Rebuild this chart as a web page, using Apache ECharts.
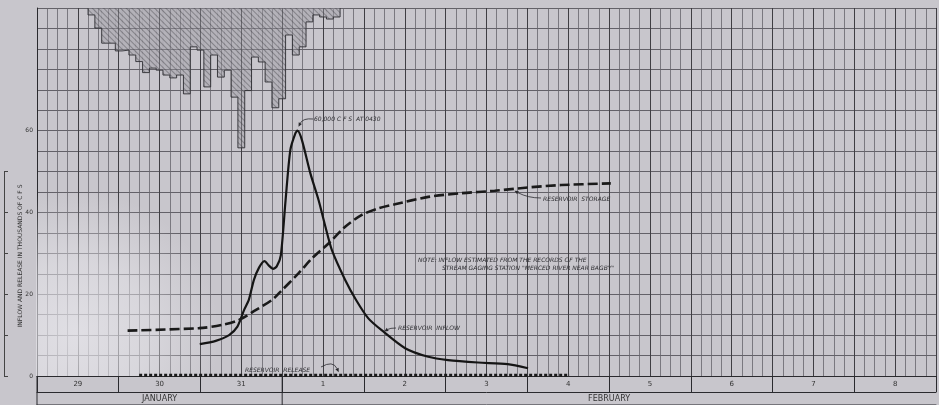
<!DOCTYPE html>
<html><head><meta charset="utf-8">
<script src="https://cdn.jsdelivr.net/npm/echarts@6/dist/echarts.min.js"></script>
<style>html,body{margin:0;padding:0;background:#c8c6cc;}#c{width:939px;height:405px;}</style>
</head><body><div id="c"></div>
<script>
// ---- data (hours counted from 00:00, January 29) ----
const dayLabels = ['29','30','31','1','2','3','4','5','6','7','8'];
const monthLabels = ['JANUARY','FEBRUARY'];
const monthCenterHours = [36, 168];
const yTickLabels = [0, 20, 40, 60];

// rainfall hyetograph, 2-hour bins starting at hour 15 (depth, drawn hanging from top)
const rainBinStartHour = 15;
const rainBinHours = 2;
const rainDepth = [1.7, 4.9, 8.6, 8.6, 10.5, 10.3, 11.5, 13.1, 15.8, 14.7, 15.2, 16.4, 17.1, 16.4, 21.0,
  9.5, 10.3, 19.3, 11.5, 16.9, 15.2, 21.8, 34.2, 20.2, 12.0, 13.2, 18.1, 24.4, 22.2, 6.6, 11.5, 9.5,
  3.4, 1.7, 2.2, 2.7, 2.2];

// reservoir inflow (thousands of cfs)
const inflowHours = [47.8, 52.5, 56.4, 58.8, 60.8, 62.2, 63.7, 65.2, 66.8, 68.1, 69.3, 70.4, 71.6, 73.0,
  74.4, 75.9, 76.5, 77.8, 80.3, 82.7, 84.7, 86.6, 90.5, 93.7, 97.3, 101.2, 108.1, 114.9, 120.7, 129.5, 138.2, 144.2];
const inflowKcfs = [7.8, 8.6, 10.0, 12.0, 16.1, 18.6, 23.5, 26.5, 28.1, 27.0, 26.2, 26.8, 29.5, 43.0,
  55.3, 59.4, 60.0, 57.7, 49.5, 43.0, 36.5, 30.8, 23.5, 18.6, 14.1, 11.2, 6.8, 4.7, 3.9, 3.3, 2.9, 1.9];

// reservoir storage
const storageHours = [26.6, 47.6, 54.4, 59.3, 64.2, 69.0, 71.0, 76.9, 80.8, 85.6, 90.5, 95.4, 100.3,
  105.1, 114.9, 124.6, 134.4, 144.1, 153.9, 168.5];
const storageVals = [11.1, 11.7, 12.5, 13.7, 16.1, 18.6, 20.2, 25.2, 28.8, 32.4, 36.5, 39.4, 41.0,
  42.0, 43.8, 44.7, 45.3, 46.1, 46.7, 47.1];

// reservoir release
const releaseHours = [30, 48, 72, 96, 120, 144, 156.3];
const releaseKcfs = [0.2, 0.2, 0.2, 0.2, 0.2, 0.2, 0.2];

// ---- build ----
const rainData = rainDepth.map((d, i) => [rainBinStartHour + rainBinHours * i + rainBinHours / 2, d]);
const rainEndHour = rainBinStartHour + rainBinHours * rainDepth.length;
const rainOutline = [[rainBinStartHour, 0]]
  .concat(rainDepth.map((d, i) => [rainBinStartHour + rainBinHours * i, d]))
  .concat([[rainEndHour, 0]]);
const zip = (a, b) => a.map((v, i) => [v, b[i]]);
function interp(xs, ys, x) {
  for (let i = 1; i < xs.length; i++) {
    if (x <= xs[i]) { const t = (x - xs[i-1]) / (xs[i] - xs[i-1]); return ys[i-1] + t * (ys[i] - ys[i-1]); }
  }
  return ys[ys.length - 1];
}

const W = 939, GL = 37, XMAX = 264;
const ink = '#2a2a2e';
const gridColor = '#66656b';
const font = 'DejaVu Sans';
const noAxis = {axisLine:{show:false}, axisTick:{show:false}, axisLabel:{show:false}, splitLine:{show:false}};

const chart = echarts.init(document.getElementById('c'));
chart.setOption({
  animation: false,
  backgroundColor: '#c8c6cc',
  grid: [
    {left: GL, right: 0, top: 8, bottom: 29},
    {left: 4, width: 1, top: 171.6, bottom: 29}
  ],
  xAxis: [
    Object.assign({type:'value', min:0, max:XMAX, interval:3, position:'bottom'}, noAxis,
      {splitLine:{show:true, lineStyle:{color:gridColor, width:0.8}}}),
    Object.assign({type:'value', min:0, max:XMAX, interval:12, position:'bottom'}, noAxis,
      {splitLine:{show:true, lineStyle:{color:'#3f3e43', width:1}}}),
    Object.assign({type:'value', min:0, max:XMAX, interval:24, position:'bottom'}, noAxis,
      {axisLine:{show:true, lineStyle:{color:ink, width:1}},
       axisTick:{show:true, inside:false, length:16, lineStyle:{color:ink, width:1}}}),
    Object.assign({type:'value', min:0, max:XMAX, interval:12, position:'bottom'}, noAxis,
      {axisLabel:{show:true, margin:5, fontSize:7, color:'#333', fontFamily:font,
        formatter: v => (v % 24 === 12 ? dayLabels[(v - 12) / 24] : '')}}),
    Object.assign({type:'value', min:0, max:XMAX, interval:12, position:'bottom', offset:16}, noAxis,
      {axisLine:{show:true, lineStyle:{color:ink, width:1}},
       axisLabel:{show:true, margin:3, fontSize:8, color:'#333', fontFamily:font,
        formatter: v => { const i = monthCenterHours.indexOf(v); return i >= 0 ? monthLabels[i] : ''; }}}),
    Object.assign({type:'value', min:0, max:XMAX, position:'bottom', offset:28}, noAxis,
      {axisLine:{show:true, lineStyle:{color:'#76757b', width:1}}}),
    Object.assign({type:'value', gridIndex:1, min:0, max:1, show:false}, noAxis)
  ],
  yAxis: [
    {type:'value', min:0, max:90, interval:5,
     axisLine:{show:true, lineStyle:{color:ink, width:1}}, axisTick:{show:false},
     axisLabel:{fontSize:6, color:'#333', margin:4, fontFamily:font,
       formatter: v => (yTickLabels.indexOf(v) >= 0 ? String(v) : '')},
     splitLine:{show:true, lineStyle:{color:'#57565c', width:0.9}}},
    Object.assign({type:'value', min:0, max:90, inverse:true, show:false}, noAxis),
    Object.assign({type:'value', gridIndex:1, min:0, max:50, interval:10, position:'left'}, noAxis,
      {axisLine:{show:true, lineStyle:{color:'#444', width:1}},
       axisTick:{show:true, inside:true, length:4, lineStyle:{color:'#444'}}})
  ],
  series: [
    {type:'bar', name:'Rainfall', xAxisIndex:0, yAxisIndex:1, data: rainData,
     barWidth: (W - GL) / XMAX * rainBinHours + 0.6, z:2,
     itemStyle:{color:'rgba(155,153,161,0.45)', borderWidth:0,
       decal:{symbol:'rect', symbolSize:1, dashArrayX:[1,0], dashArrayY:[1,2.5], rotation:Math.PI/4,
              color:'rgba(60,60,65,0.4)'}}},
    {type:'line', name:'Rainfall outline', xAxisIndex:0, yAxisIndex:1, data: rainOutline, step:'end',
     showSymbol:false, lineStyle:{color:'#2f2f33', width:0.9}, z:3},
    {type:'line', name:'Reservoir inflow', data: zip(inflowHours, inflowKcfs), showSymbol:false, smooth:0.25,
     lineStyle:{color:'#151515', width:2.2}, z:5},
    {type:'line', name:'Reservoir storage', data: zip(storageHours, storageVals), showSymbol:false, smooth:0.3,
     lineStyle:{color:'#1a1a1a', width:2.6, type:[10,4]}, z:5},
    {type:'line', name:'Reservoir release', data: zip(releaseHours, releaseKcfs), showSymbol:false,
     lineStyle:{color:'#1a1a1a', width:3, type:[3,2]}, z:5}
  ]
});

// ---- annotations ----
const px = p => chart.convertToPixel({xAxisIndex:0, yAxisIndex:0}, p);
const peakIdx = inflowKcfs.indexOf(Math.max.apply(null, inflowKcfs));
const peakPt = px([inflowHours[peakIdx], inflowKcfs[peakIdx]]);
const stH = 140.2, stPt = px([stH, interp(storageHours, storageVals, stH)]);
const inH = 101.7, inPt = px([inH, interp(inflowHours, inflowKcfs, inH)]);
const reH = 88.6, rePt = px([reH, interp(releaseHours, releaseKcfs, reH)]);

const textStyle = (t, x, y) => ({type:'text', x:x, y:y, z:10,
  style:{text:t, fill:'#2e2e32', font:'italic 6px "DejaVu Sans"', verticalAlign:'middle', align:'left'}});
function arrow(x1, y1, cx, cy, x2, y2) {
  const ang = Math.atan2(y2 - cy, x2 - cx), L = 4, Wd = 1.8;
  const bx = x2 - L * Math.cos(ang), by = y2 - L * Math.sin(ang);
  return [
    {type:'bezierCurve', z:10, shape:{x1:x1, y1:y1, cpx1:cx, cpy1:cy, x2:bx, y2:by},
     style:{stroke:'#2a2a2e', lineWidth:0.8, fill:null}},
    {type:'polygon', z:10, shape:{points:[[x2, y2],
      [bx + Wd * Math.sin(ang), by - Wd * Math.cos(ang)], [bx - Wd * Math.sin(ang), by + Wd * Math.cos(ang)]]},
     style:{fill:'#2a2a2e'}}
  ];
}

const elements = [
  {type:'rect', z:1, shape:{x:36, y:185, width:180, height:191},
   style:{fill:new echarts.graphic.RadialGradient(0.22, 0.78, 0.8, [
     {offset:0, color:'rgba(232,231,236,0.75)'}, {offset:0.5, color:'rgba(232,231,236,0.5)'},
     {offset:1, color:'rgba(232,231,236,0)'}])}},
  {type:'text', x:20, y:256, rotation:Math.PI/2, z:10,
   style:{text:'INFLOW AND RELEASE IN THOUSANDS OF C F S', fill:'#333', font:'6px "DejaVu Sans"',
          align:'center', verticalAlign:'middle'}},
  textStyle('60,000 C F S  AT 0430', 314, 119),
  textStyle('RESERVOIR  STORAGE', 543, 199),
  textStyle('RESERVOIR  INFLOW', 398, 328),
  textStyle('RESERVOIR  RELEASE', 245, 370),
  textStyle('NOTE: INFLOW ESTIMATED FROM THE RECORDS OF THE', 418, 260),
  textStyle('STREAM GAGING STATION "MERCED RIVER NEAR BAGBY"', 442, 268)
].concat(
  arrow(313, 119, 303, 118, peakPt[0] + 1, peakPt[1] - 4),
  arrow(541, 198, 528, 198, stPt[0], stPt[1] + 2),
  arrow(396, 328, 390, 328, inPt[0] + 1, inPt[1]),
  arrow(321, 367, 333, 360, rePt[0], rePt[1] - 3)
);
const monthSep = px([72, 0]);
const leftEdge = px([0, 0]);
elements.push(
  {type:'line', z:10, shape:{x1:monthSep[0], y1:monthSep[1], x2:monthSep[0], y2:405}, style:{stroke:ink, lineWidth:1}},
  {type:'line', z:10, shape:{x1:leftEdge[0], y1:leftEdge[1], x2:leftEdge[0], y2:405}, style:{stroke:ink, lineWidth:1}}
);
chart.setOption({graphic:{elements: elements}});
</script>
</body></html>
